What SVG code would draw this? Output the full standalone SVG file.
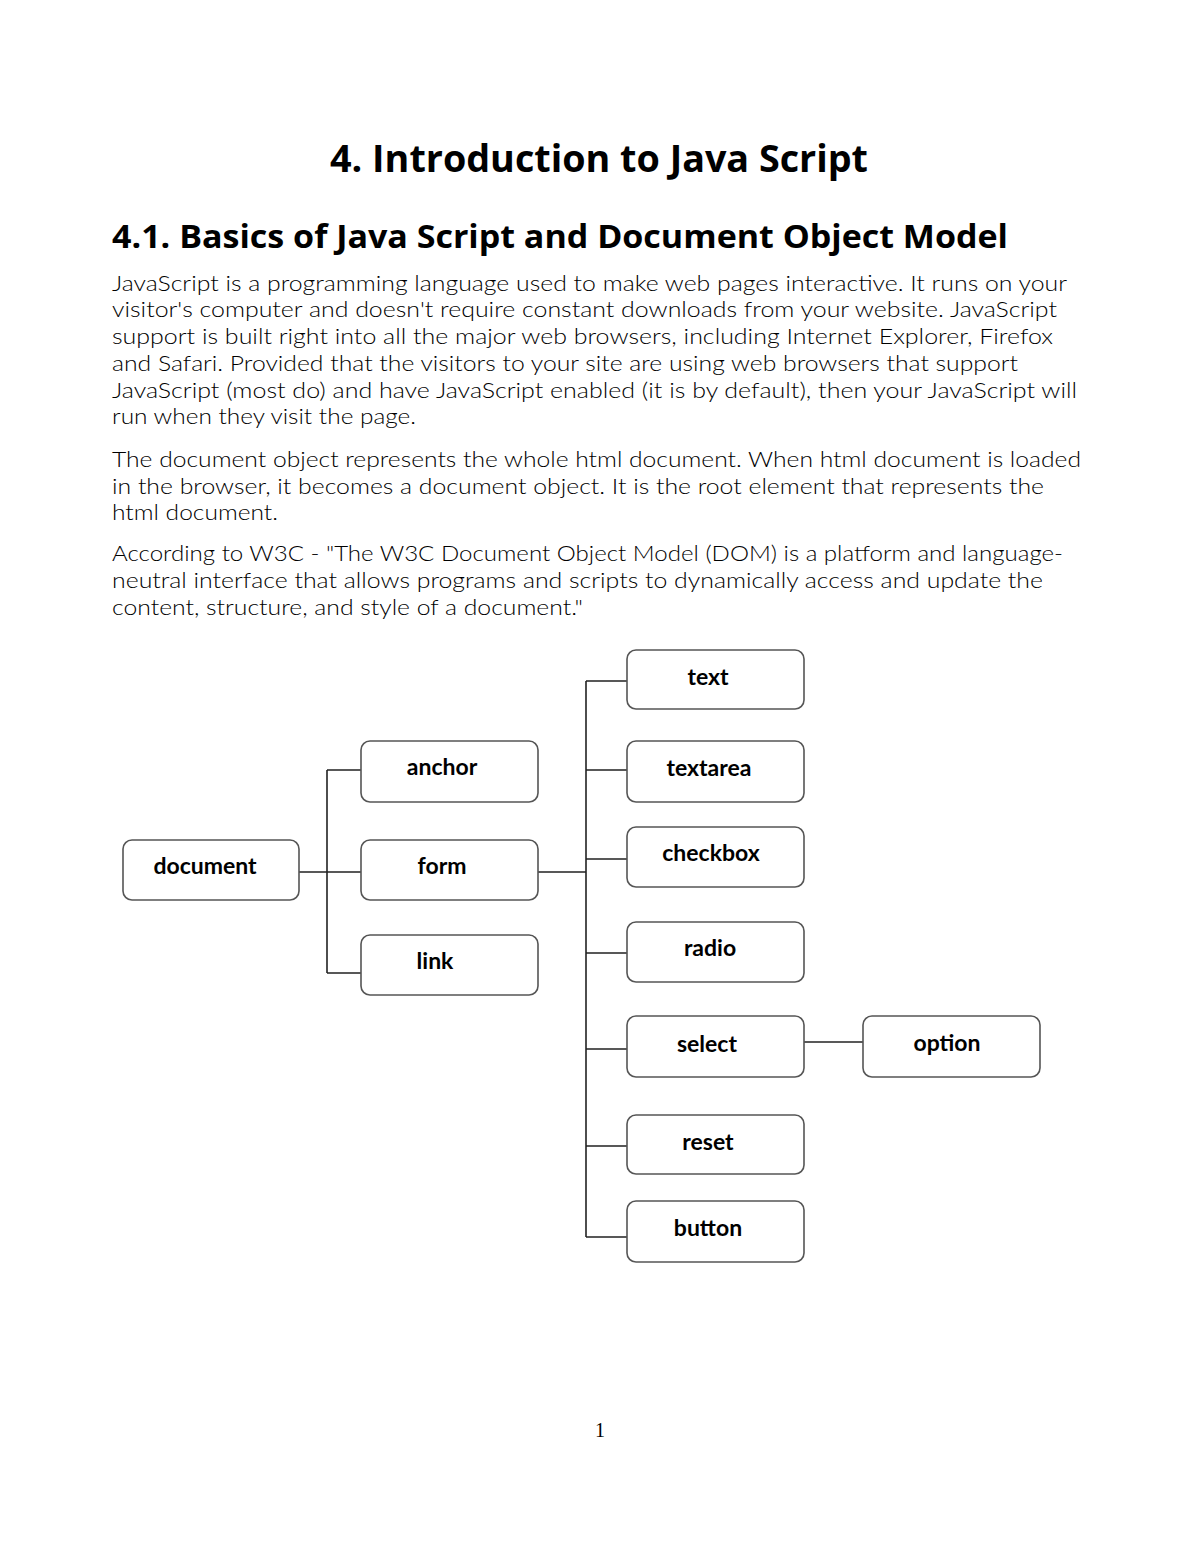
<svg xmlns="http://www.w3.org/2000/svg" width="1200" height="1553" viewBox="0 0 1200 1553">
<style>
.h1{font-family:"Open Sans","Noto Sans",sans-serif;font-weight:700;font-size:37px;fill:#000}
.h2{font-family:"Open Sans","Noto Sans",sans-serif;font-weight:700;font-size:32px;fill:#000}
.p{font-family:Lato,"Open Sans",sans-serif;font-weight:300;font-size:22px;fill:#000}
.box{fill:#fff;stroke:#555;stroke-width:1.6}
.lbl{font-family:Lato,"Open Sans",sans-serif;font-weight:700;font-size:23px;fill:#000;text-anchor:middle}
.con{fill:none;stroke:#222;stroke-width:1.6}
.pg{font-family:"Liberation Serif",serif;font-size:20px;fill:#000;text-anchor:middle}
</style>
<rect width="1200" height="1553" fill="#fff"/>
<text class="h1" x="330" y="172" textLength="538" lengthAdjust="spacingAndGlyphs">4. Introduction to Java Script</text>
<text class="h2" x="112" y="248" textLength="896" lengthAdjust="spacingAndGlyphs">4.1. Basics of Java Script and Document Object Model</text>
<g id="body">
<text class="p" x="112" y="291" textLength="955" lengthAdjust="spacingAndGlyphs">JavaScript is a programming language used to make web pages interactive. It runs on your</text>
<text class="p" x="112" y="317" textLength="945" lengthAdjust="spacingAndGlyphs">visitor's computer and doesn't require constant downloads from your website. JavaScript</text>
<text class="p" x="112" y="344" textLength="941" lengthAdjust="spacingAndGlyphs">support is built right into all the major web browsers, including Internet Explorer, Firefox</text>
<text class="p" x="112" y="371" textLength="906" lengthAdjust="spacingAndGlyphs">and Safari. Provided that the visitors to your site are using web browsers that support</text>
<text class="p" x="112" y="398" textLength="965" lengthAdjust="spacingAndGlyphs">JavaScript (most do) and have JavaScript enabled (it is by default), then your JavaScript will</text>
<text class="p" x="112" y="424" textLength="304" lengthAdjust="spacingAndGlyphs">run when they visit the page.</text>
<text class="p" x="112" y="467" textLength="969" lengthAdjust="spacingAndGlyphs">The document object represents the whole html document. When html document is loaded</text>
<text class="p" x="112" y="494" textLength="932" lengthAdjust="spacingAndGlyphs">in the browser, it becomes a document object. It is the root element that represents the</text>
<text class="p" x="112" y="520" textLength="166" lengthAdjust="spacingAndGlyphs">html document.</text>
<text class="p" x="112" y="561" textLength="951" lengthAdjust="spacingAndGlyphs">According to W3C - "The W3C Document Object Model (DOM) is a platform and language-</text>
<text class="p" x="112" y="588" textLength="931" lengthAdjust="spacingAndGlyphs">neutral interface that allows programs and scripts to dynamically access and update the</text>
<text class="p" x="112" y="615" textLength="471" lengthAdjust="spacingAndGlyphs">content, structure, and style of a document."</text>
</g>
<g id="connectors">
<path class="con" d="M299 872H361M327 770V973M327 770H361M327 973H361"/>
<path class="con" d="M538 872H586M586 681V1237M586 681H627M586 770H627M586 859H627M586 953H627M586 1049H627M586 1146H627M586 1237H627"/>
<path class="con" d="M804 1042H863"/>
</g>
<g id="n-document"><rect class="box" x="123" y="840" width="176" height="60" rx="9"/><text class="lbl" x="205" y="874">document</text></g>
<g id="n-anchor"><rect class="box" x="361" y="741" width="177" height="61" rx="9"/><text class="lbl" x="442" y="775">anchor</text></g>
<g id="n-form"><rect class="box" x="361" y="840" width="177" height="60" rx="9"/><text class="lbl" x="442" y="874">form</text></g>
<g id="n-link"><rect class="box" x="361" y="935" width="177" height="60" rx="9"/><text class="lbl" x="435" y="969">link</text></g>
<g id="n-text"><rect class="box" x="627" y="650" width="177" height="59" rx="9"/><text class="lbl" x="708" y="685">text</text></g>
<g id="n-textarea"><rect class="box" x="627" y="741" width="177" height="61" rx="9"/><text class="lbl" x="709" y="776">textarea</text></g>
<g id="n-checkbox"><rect class="box" x="627" y="827" width="177" height="60" rx="9"/><text class="lbl" x="711" y="861">checkbox</text></g>
<g id="n-radio"><rect class="box" x="627" y="922" width="177" height="60" rx="9"/><text class="lbl" x="710" y="956">radio</text></g>
<g id="n-select"><rect class="box" x="627" y="1016" width="177" height="61" rx="9"/><text class="lbl" x="707" y="1052">select</text></g>
<g id="n-option"><rect class="box" x="863" y="1016" width="177" height="61" rx="9"/><text class="lbl" x="947" y="1051">option</text></g>
<g id="n-reset"><rect class="box" x="627" y="1115" width="177" height="59" rx="9"/><text class="lbl" x="708" y="1150">reset</text></g>
<g id="n-button"><rect class="box" x="627" y="1201" width="177" height="61" rx="9"/><text class="lbl" x="708" y="1236">button</text></g>
<text class="pg" x="600" y="1437">1</text>
</svg>
